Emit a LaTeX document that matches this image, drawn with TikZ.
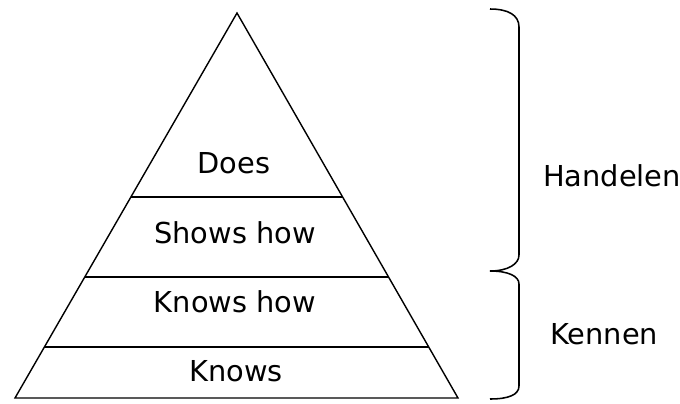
\documentclass[tikz,border=0pt]{standalone}
\usepackage{fontspec}
\setmainfont{DejaVu Sans}
\usetikzlibrary{calc}
\begin{document}
\begin{tikzpicture}[x=0.025cm, y=-0.025cm,
    every node/.style={font=\fontsize{20.5}{24}\selectfont},
    level/.style={anchor=center, inner sep=0pt},
    side/.style={anchor=west, inner sep=0pt},
    edge/.style={draw=black, line width=1pt},
    bracket/.style={draw=black, line width=1.1pt}
  ]
  \useasboundingbox (0,0) rectangle (680,403);

  % pyramid
  \coordinate (top) at (237,13);
  \coordinate (bl) at (15,398);
  \coordinate (br) at (458,398);
  \draw[edge] (top) -- (br) -- (bl) -- cycle;
  \foreach \t/\n in {0.478/a,0.686/b,0.868/c} {
    \coordinate (l\n) at ($(top)!\t!(bl)$);
    \coordinate (r\n) at ($(top)!\t!(br)$);
    \draw[edge] (l\n) -- (r\n);
  }

  \node[level] (does) at (234,163) {Does};
  \node[level] (shows) at (235,233) {Shows how};
  \node[level] (knowshow) at (235,302) {Knows how};
  \node[level] (knows) at (236,371) {Knows};

  % braces
  \coordinate (cusp) at (490,271);
  \draw[bracket] (490,9) .. controls (508,9) and (519,15) .. (519,27) -- (519,255)
    .. controls (519,264) and (508,271) .. (cusp);
  \draw[bracket] (cusp) .. controls (508,271) and (519,276) .. (519,284) -- (519,386)
    .. controls (519,395) and (508,399) .. (490,399);

  \node[side] (handelen) at (543,176) {Handelen};
  \node[side] (kennen) at (550,334) {Kennen};
\end{tikzpicture}
\end{document}
